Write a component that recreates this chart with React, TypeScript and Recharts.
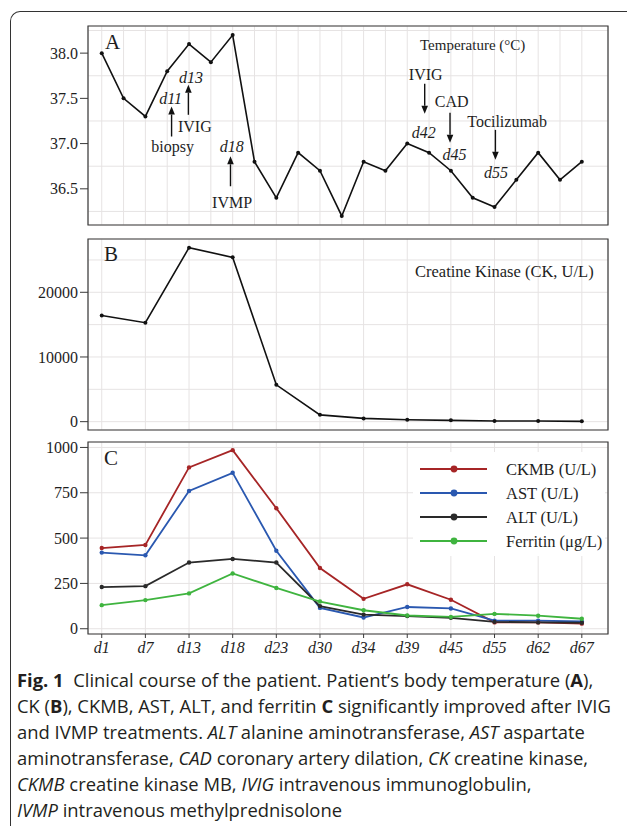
import React from "react";
import {
  LineChart,
  Line,
  XAxis,
  YAxis,
  CartesianGrid,
  ReferenceArea,
  ReferenceDot,
} from "recharts";

// ---- data ----
// temperature is recorded on a finer grid: 23 readings, every second one lines up with a lab day
const temperature = [
  38.0, 37.5, 37.3, 37.8, 38.1, 37.9, 38.2, 36.8, 36.4, 36.9, 36.7, 36.2,
  36.8, 36.7, 37.0, 36.9, 36.7, 36.4, 36.3, 36.6, 36.9, 36.6, 36.8,
];
const days = ["d1", "d7", "d13", "d18", "d23", "d30", "d34", "d39", "d45", "d55", "d62", "d67"];
const ck = [16400, 15300, 26900, 25400, 5700, 1050, 500, 300, 200, 100, 100, 50];
const ckmb = [445, 462, 890, 985, 665, 335, 165, 245, 160, 35, 35, 28];
const ast = [420, 405, 760, 860, 430, 115, 62, 120, 112, 45, 45, 40];
const alt = [230, 235, 365, 385, 365, 125, 78, 70, 60, 38, 35, 33];
const ferritin = [130, 158, 195, 305, 225, 150, 102, 73, 65, 82, 72, 55];

// series of panel C, in legend order
const labSeries = [
  { key: "ckmb", name: "CKMB (U/L)", color: "#a62526" },
  { key: "ast", name: "AST (U/L)", color: "#2a58b0" },
  { key: "alt", name: "ALT (U/L)", color: "#2a2a2a" },
  { key: "ferritin", name: "Ferritin (μg/L)", color: "#3fb43f" },
];

// treatment / event annotations on the temperature panel (x = reading index, tip = °C)
const events = [
  { x: 3.2, tip: 37.41, day: "d11", label: "biopsy", dir: "up", dayDx: -1, dayDy: 8, labelDx: 1, labelDy: 10 },
  { x: 3.97, tip: 37.65, day: "d13", label: "IVIG", dir: "up", dayDx: 2.5, dayDy: 7, labelDx: 6.5, labelDy: 12 },
  { x: 5.9, tip: 36.86, day: "d18", label: "IVMP", dir: "up", dayDx: 1.3, dayDy: 10, labelDx: 1.6, labelDy: 16 },
  { x: 14.8, tip: 37.33, day: "d42", label: "IVIG", dir: "down", dayDx: -1, dayDy: 18.5, labelDx: 1, labelDy: 9 },
  { x: 15.96, tip: 37.01, day: "d45", label: "CAD", dir: "down", dayDx: 4.5, dayDy: 11.5, labelDx: 1.7, labelDy: 11 },
  { x: 18.04, tip: 36.82, day: "d55", label: "Tocilizumab", dir: "down", dayDx: 0.7, dayDy: 12.5, labelDx: 11.7, labelDy: 8 },
];

const tempData = temperature.map((t, i) => ({ x: i, t }));
const labData = days.map((d, i) => ({
  x: i * 2,
  day: d,
  ck: ck[i],
  ckmb: ckmb[i],
  ast: ast[i],
  alt: alt[i],
  ferritin: ferritin[i],
}));

// ---- layout ----
const W = 627;
const X_DOMAIN: [number, number] = [-0.63, 23.2];
const SERIF = "'Liberation Serif', 'Times New Roman', serif";
const GRID = "#e6e3e3";
const BORDER = "#3a3a3a";
const MARGIN_SIDES = { left: 0, right: 19 };

const tempGridX = temperature.map((_, i) => i);
const labGridX = labData.map((r) => r.x);

const range = (from: number, to: number, step: number) => {
  const out: number[] = [];
  for (let v = from; v <= to + 1e-9; v += step) out.push(Math.round(v * 1000) / 1000);
  return out;
};

const yTick = { fontFamily: SERIF, fontSize: 16, fill: "#1e1e1e" };

function Annotation(props: any) {
  const { cx, cy, ev } = props;
  const len = 30;
  const head = 8;
  const half = 3.3;
  const up = ev.dir === "up";
  const tailY = up ? cy + len : cy - len;
  const baseY = up ? cy + head : cy - head;
  const dayY = up ? cy - ev.dayDy : cy + ev.dayDy;
  const labelY = up ? tailY + ev.labelDy : tailY - ev.labelDy;
  return (
    <g>
      <line x1={cx} y1={tailY} x2={cx} y2={baseY} stroke="#111" strokeWidth={1.4} />
      <polygon points={`${cx},${cy} ${cx - half},${baseY} ${cx + half},${baseY}`} fill="#111" />
      <text x={cx + ev.dayDx} y={dayY} dy="0.35em" textAnchor="middle" fontFamily={SERIF} fontStyle="italic" fontSize={16} fill="#1e1e1e">
        {ev.day}
      </text>
      <text x={cx + ev.labelDx} y={labelY} dy="0.35em" textAnchor="middle" fontFamily={SERIF} fontSize={16} fill="#1e1e1e">
        {ev.label}
      </text>
    </g>
  );
}

function PanelLetter({ x, y, children }: { x: number; y: number; children: React.ReactNode }) {
  return (
    <div style={{ position: "absolute", left: x, top: y, fontFamily: SERIF, fontSize: 21, color: "#1e1e1e", lineHeight: 1 }}>
      {children}
    </div>
  );
}

function LabLegend() {
  return (
    <div style={{ position: "absolute", left: 413, top: 17, width: 192, height: 104, background: "#fff" }}>
      <svg width={192} height={104}>
        {labSeries.map((s, i) => {
          const y = 17 + i * 24;
          return (
            <g key={s.key}>
              <line x1={7} x2={74} y1={y} y2={y} stroke={s.color} strokeWidth={2.2} />
              <circle cx={41} cy={y} r={3.4} fill={s.color} />
              <text x={93} y={y} dy="0.35em" fontFamily={SERIF} fontSize={16.5} fill="#1e1e1e">
                {s.name}
              </text>
            </g>
          );
        })}
      </svg>
    </div>
  );
}

export default function App() {
  const tempY: [number, number] = [36.1, 38.3];
  const ckY: [number, number] = [-1290, 28240];
  const labY: [number, number] = [-29, 1030];

  return (
    <div style={{ position: "absolute", left: 0, top: 0, width: W, height: 826, background: "#fff", overflow: "hidden" }}>
      {/* page frame */}
      <div
        style={{
          position: "absolute",
          left: 10,
          top: 11,
          width: 640,
          height: 840,
          borderLeft: "1.5px solid #333",
          borderTop: "1.5px solid #333",
          borderTopLeftRadius: 10,
        }}
      />

      {/* A: temperature */}
      <div style={{ position: "absolute", left: 0, top: 0 }}>
        <LineChart width={W} height={231} data={tempData} margin={{ top: 26, bottom: 0, ...MARGIN_SIDES }}>
          <XAxis xAxisId="g" type="number" dataKey="x" domain={X_DOMAIN} ticks={tempGridX} hide allowDataOverflow />
          <YAxis yAxisId="g" type="number" domain={tempY} ticks={range(36.25, 38.25, 0.25)} hide allowDataOverflow />
          <CartesianGrid xAxisId="g" yAxisId="g" stroke={GRID} />
          <XAxis type="number" dataKey="x" domain={X_DOMAIN} ticks={tempGridX} allowDataOverflow interval={0}
            tick={false} tickSize={4} axisLine={false} tickLine={{ stroke: BORDER }} height={6} />
          <YAxis type="number" domain={tempY} ticks={[36.5, 37.0, 37.5, 38.0]} allowDataOverflow width={88}
            tickFormatter={(v: number) => v.toFixed(1)} tick={yTick} tickSize={8} tickMargin={2}
            axisLine={false} tickLine={{ stroke: BORDER }} />
          <ReferenceArea x1={X_DOMAIN[0]} x2={X_DOMAIN[1]} y1={tempY[0]} y2={tempY[1]} fill="none" stroke={BORDER} strokeWidth={1.2} />
          <Line dataKey="t" stroke="#111" strokeWidth={1.6} dot={{ r: 2, fill: "#111", stroke: "none" }} isAnimationActive={false} />
          {events.map((ev) => (
            <ReferenceDot key={ev.day} x={ev.x} y={ev.tip} r={0} shape={(p: any) => <Annotation {...p} ev={ev} />} />
          ))}
        </LineChart>
        <div style={{ position: "absolute", left: 420, top: 36, fontFamily: SERIF, fontSize: 15, color: "#1e1e1e", lineHeight: "18px" }}>
          Temperature (°C)
        </div>
        <PanelLetter x={105} y={32}>A</PanelLetter>
      </div>

      {/* B: creatine kinase */}
      <div style={{ position: "absolute", left: 0, top: 230 }}>
        <LineChart width={W} height={206} data={labData} margin={{ top: 9, bottom: 0, ...MARGIN_SIDES }}>
          <XAxis xAxisId="g" type="number" dataKey="x" domain={X_DOMAIN} ticks={labGridX} hide allowDataOverflow />
          <YAxis yAxisId="g" type="number" domain={ckY} ticks={range(0, 25000, 5000)} hide allowDataOverflow />
          <CartesianGrid xAxisId="g" yAxisId="g" stroke={GRID} />
          <XAxis type="number" dataKey="x" domain={X_DOMAIN} ticks={labGridX} allowDataOverflow interval={0}
            tick={false} tickSize={4} axisLine={false} tickLine={{ stroke: BORDER }} height={6} />
          <YAxis type="number" domain={ckY} ticks={[0, 10000, 20000]} allowDataOverflow width={88}
            tick={yTick} tickSize={8} tickMargin={2} axisLine={false} tickLine={{ stroke: BORDER }} />
          <ReferenceArea x1={X_DOMAIN[0]} x2={X_DOMAIN[1]} y1={ckY[0]} y2={ckY[1]} fill="none" stroke={BORDER} strokeWidth={1.2} />
          <Line dataKey="ck" stroke="#111" strokeWidth={1.6} dot={{ r: 2, fill: "#111", stroke: "none" }} isAnimationActive={false} />
        </LineChart>
        <div style={{ position: "absolute", left: 415, top: 32, fontFamily: SERIF, fontSize: 16.5, color: "#1e1e1e", lineHeight: "20px" }}>
          Creatine Kinase (CK, U/L)
        </div>
        <PanelLetter x={104} y={14}>B</PanelLetter>
      </div>

      {/* C: CKMB, AST, ALT, ferritin */}
      <div style={{ position: "absolute", left: 0, top: 435 }}>
        <LineChart width={W} height={229} data={labData} margin={{ top: 7, bottom: 0, ...MARGIN_SIDES }}>
          <XAxis xAxisId="g" type="number" dataKey="x" domain={X_DOMAIN} ticks={labGridX} hide allowDataOverflow />
          <YAxis yAxisId="g" type="number" domain={labY} ticks={range(0, 1000, 125)} hide allowDataOverflow />
          <CartesianGrid xAxisId="g" yAxisId="g" stroke={GRID} />
          <XAxis type="number" dataKey="x" domain={X_DOMAIN} ticks={labGridX} allowDataOverflow interval={0}
            tickFormatter={(v: number) => days[v / 2]}
            tick={{ fontFamily: SERIF, fontSize: 16, fontStyle: "italic", fill: "#1e1e1e" }}
            tickSize={4} tickMargin={4} axisLine={false} tickLine={{ stroke: BORDER }} height={30} />
          <YAxis type="number" domain={labY} ticks={[0, 250, 500, 750, 1000]} allowDataOverflow width={88}
            tick={yTick} tickSize={8} tickMargin={2} axisLine={false} tickLine={{ stroke: BORDER }} />
          <ReferenceArea x1={X_DOMAIN[0]} x2={X_DOMAIN[1]} y1={labY[0]} y2={labY[1]} fill="none" stroke={BORDER} strokeWidth={1.2} />
          {labSeries.map((s) => (
            <Line key={s.key} name={s.name} dataKey={s.key} stroke={s.color} strokeWidth={1.8}
              dot={{ r: 2.2, fill: s.color, stroke: "none" }} isAnimationActive={false} />
          ))}
        </LineChart>
        <LabLegend />
        <PanelLetter x={104} y={13}>C</PanelLetter>
      </div>

      {/* caption */}
      <div
        style={{
          position: "absolute",
          left: 17,
          top: 667,
          width: 610,
          whiteSpace: "nowrap",
          fontFamily: "'Open Sans', 'Noto Sans', sans-serif",
          fontSize: 18.4,
          lineHeight: "26px",
          color: "#231f20",
        }}
      >
        <b>Fig. 1</b>&nbsp; Clinical course of the patient. Patient’s body temperature (<b>A</b>),
        <br />
        CK (<b>B</b>), CKMB, AST, ALT, and ferritin <b>C</b> significantly improved after IVIG
        <br />
        and IVMP treatments. <i>ALT</i> alanine aminotransferase, <i>AST</i> aspartate
        <br />
        aminotransferase, <i>CAD</i> coronary artery dilation, <i>CK</i> creatine kinase,
        <br />
        <i>CKMB</i> creatine kinase MB, <i>IVIG</i> intravenous immunoglobulin,
        <br />
        <i>IVMP</i> intravenous methylprednisolone
      </div>
    </div>
  );
}
